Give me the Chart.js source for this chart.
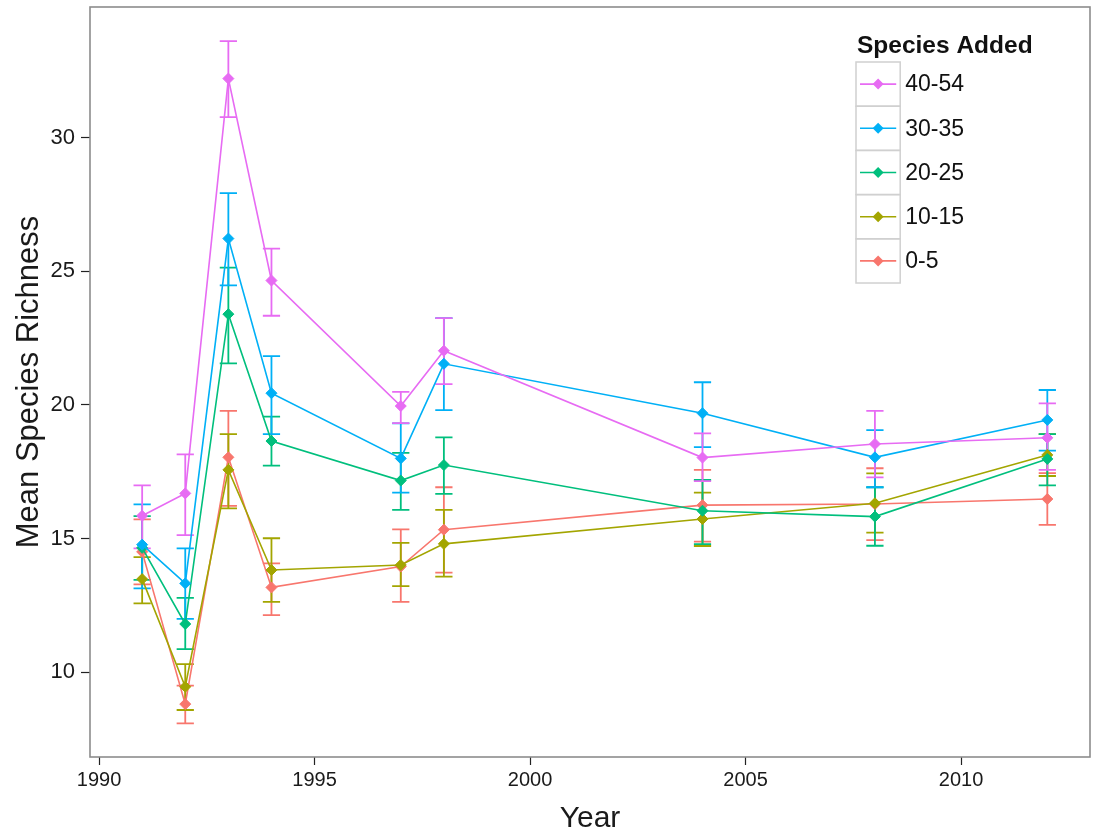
<!DOCTYPE html>
<html>
<head>
<meta charset="utf-8">
<script src="https://cdn.jsdelivr.net/npm/chart.js@4.4.0/dist/chart.umd.min.js"></script>
<style>
  html, body { margin: 0; padding: 0; background: #fff; }
</style>
</head>
<body>
<canvas id="richness" width="1093" height="837"></canvas>
<script>
// survey years and tick labels
const years = [1991, 1992, 1993, 1994, 1997, 1998, 2004, 2008, 2012];
const xTicks = [1990, 1995, 2000, 2005, 2010];
const yTicks = [10, 15, 20, 25, 30];

// groups, top of legend first
const groups = ['40-54', '30-35', '20-25', '10-15', '0-5'];
const colors = ['#E76BF3', '#00B0F6', '#00BF7D', '#A3A500', '#F8766D'];

// mean richness and error bar ends
const mean4054 = [15.85, 16.69, 32.22, 24.66, 19.96, 22.03, 18.03, 18.54, 18.77];
const lo4054   = [14.63, 15.13, 30.78, 23.34, 19.32, 20.78, 17.15, 17.29, 17.57];
const hi4054   = [16.99, 18.15, 33.62, 25.85, 20.49, 23.25, 18.94, 19.78, 20.06];

const mean3035 = [14.77, 13.32, 26.23, 20.44, 18.00, 21.54, 19.69, 18.04, 19.44];
const lo3035   = [13.13, 11.99, 24.48, 18.91, 16.72, 19.81, 18.42, 16.92, 18.29];
const hi3035   = [16.28, 14.63, 27.93, 21.83, 19.31, 23.25, 20.85, 19.06, 20.56];

const mean2025 = [14.65, 11.80, 23.40, 18.65, 17.17, 17.75, 16.04, 15.82, 17.98];
const lo2025   = [13.45, 10.86, 21.56, 17.73, 16.07, 16.67, 14.79, 14.73, 16.99];
const hi2025   = [15.84, 12.78, 25.14, 19.56, 18.21, 18.79, 17.19, 16.92, 18.91];

const mean1015 = [13.48, 9.45, 17.57, 13.82, 14.01, 14.80, 15.73, 16.32, 18.13];
const lo1015   = [12.57, 8.58, 16.13, 12.63, 13.22, 13.57, 14.72, 15.22, 17.34];
const hi1015   = [14.30, 10.30, 18.91, 15.01, 14.84, 16.07, 16.72, 17.44, 18.91];

const mean005 = [14.50, 8.80, 18.04, 13.17, 13.95, 15.33, 16.25, 16.29, 16.48];
const lo005   = [13.28, 8.08, 16.22, 12.13, 12.63, 13.72, 14.88, 14.94, 15.51];
const hi005   = [15.72, 9.49, 19.78, 14.07, 15.34, 16.92, 17.57, 17.63, 17.45];

const means = [mean4054, mean3035, mean2025, mean1015, mean005];
const lows  = [lo4054, lo3035, lo2025, lo1015, lo005];
const highs = [hi4054, hi3035, hi2025, hi1015, hi005];

const FONT = '"Liberation Sans", Arial, sans-serif';
const capHalf = 0.2; // error bar cap half width, in years

const datasets = groups.map((g, k) => ({
    label: g,
    data: years.map((yr, i) => ({ x: yr, y: means[k][i] })),
    lo: lows[k],
    hi: highs[k],
    borderColor: colors[k],
    backgroundColor: colors[k],
    borderWidth: 1.6,
    pointStyle: 'rectRot',
    pointRadius: 5.5,
    pointBorderWidth: 1,
    tension: 0
}));

// error bars under the lines, drawn bottom group first
const errorBars = {
    id: 'errorBars',
    beforeDatasetsDraw(chart) {
        const ctx = chart.ctx;
        const xs = chart.scales.x, ys = chart.scales.y;
        ctx.save();
        ctx.lineWidth = 1.8;
        for (let d = chart.data.datasets.length - 1; d >= 0; d--) {
            const ds = chart.data.datasets[d];
            ctx.strokeStyle = ds.borderColor;
            ds.data.forEach((p, i) => {
                const x = xs.getPixelForValue(p.x);
                const xa = xs.getPixelForValue(p.x - capHalf);
                const xb = xs.getPixelForValue(p.x + capHalf);
                const yl = ys.getPixelForValue(ds.lo[i]);
                const yh = ys.getPixelForValue(ds.hi[i]);
                ctx.beginPath();
                ctx.moveTo(x, yl); ctx.lineTo(x, yh);
                ctx.moveTo(xa, yl); ctx.lineTo(xb, yl);
                ctx.moveTo(xa, yh); ctx.lineTo(xb, yh);
                ctx.stroke();
            });
        }
        ctx.restore();
    }
};

// grey panel border
const panelFrame = {
    id: 'panelFrame',
    afterDraw(chart) {
        const a = chart.chartArea, ctx = chart.ctx;
        ctx.save();
        ctx.strokeStyle = '#8c8c8c';
        ctx.lineWidth = 1.6;
        ctx.strokeRect(a.left, a.top, a.right - a.left, a.bottom - a.top);
        ctx.restore();
    }
};

// ggplot style legend with keys in boxes
const keyLegend = {
    id: 'keyLegend',
    afterDraw(chart) {
        const ctx = chart.ctx;
        const left = 856, top = 62, size = 44.2;
        ctx.save();
        ctx.fillStyle = '#111';
        ctx.font = 'bold 24.5px ' + FONT;
        ctx.textBaseline = 'alphabetic';
        ctx.fillText('Species Added', 857, 53);
        chart.data.datasets.forEach((ds, i) => {
            const y0 = top + i * size;
            ctx.strokeStyle = '#d0d0d0';
            ctx.lineWidth = 1.5;
            ctx.strokeRect(left, y0, size, size);
            const cy = y0 + size / 2, cx = left + size / 2;
            ctx.strokeStyle = ds.borderColor;
            ctx.lineWidth = 1.6;
            ctx.beginPath();
            ctx.moveTo(left + 4, cy); ctx.lineTo(left + size - 4, cy);
            ctx.stroke();
            ctx.fillStyle = ds.backgroundColor;
            ctx.beginPath();
            ctx.moveTo(cx, cy - 5.5); ctx.lineTo(cx + 5.5, cy);
            ctx.lineTo(cx, cy + 5.5); ctx.lineTo(cx - 5.5, cy);
            ctx.closePath();
            ctx.fill();
            ctx.fillStyle = '#111';
            ctx.font = '23px ' + FONT;
            ctx.textBaseline = 'middle';
            ctx.fillText(ds.label, left + size + 5, cy + 1);
        });
        ctx.restore();
    }
};

new Chart(document.getElementById('richness').getContext('2d'), {
    type: 'line',
    data: { datasets: datasets },
    plugins: [errorBars, panelFrame, keyLegend],
    options: {
        responsive: false,
        animation: false,
        layout: { autoPadding: false, padding: { top: 7, right: 3, left: 0, bottom: 0 } },
        plugins: {
            legend: { display: false },
            tooltip: { enabled: false }
        },
        scales: {
            x: {
                type: 'linear',
                min: 1989.79,
                max: 2012.99,
                afterFit: s => { s.height = 80; s.paddingLeft = 0; s.paddingRight = 0; },
                afterBuildTicks: s => { s.ticks = xTicks.map(v => ({ value: v })); },
                border: { display: false },
                grid: { drawOnChartArea: false, drawTicks: true, tickLength: 8, color: '#222', tickWidth: 1.2 },
                ticks: {
                    color: '#1a1a1a',
                    font: { family: FONT, size: 20 },
                    padding: 3,
                    maxRotation: 0,
                    callback: v => String(v)
                },
                title: {
                    display: true,
                    text: 'Year',
                    color: '#1a1a1a',
                    font: { family: FONT, size: 30 },
                    padding: { top: 0, bottom: 0 }
                }
            },
            y: {
                min: 6.82,
                max: 34.9,
                afterFit: s => { s.width = 90; s.paddingTop = 0; s.paddingBottom = 0; },
                afterBuildTicks: s => { s.ticks = yTicks.map(v => ({ value: v })); },
                border: { display: false },
                grid: { drawOnChartArea: false, drawTicks: true, tickLength: 9, color: '#222', tickWidth: 1.2 },
                ticks: {
                    color: '#1a1a1a',
                    font: { family: FONT, size: 22 },
                    padding: 6
                },
                title: {
                    display: true,
                    text: 'Mean Species Richness',
                    color: '#1a1a1a',
                    font: { family: FONT, size: 31 },
                    padding: { top: 11, bottom: 0 }
                }
            }
        }
    }
});
</script>
</body>
</html>
